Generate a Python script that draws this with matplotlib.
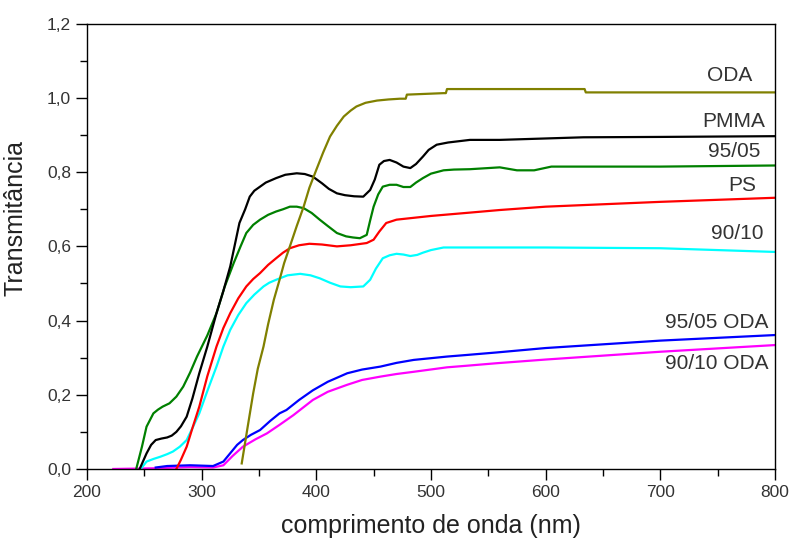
import numpy as np
import matplotlib.pyplot as plt
from matplotlib.ticker import MultipleLocator, FuncFormatter

plt.rcParams['font.family'] = ['Liberation Sans', 'DejaVu Sans']

# PMMA
pmma_x = [246, 252, 256, 260, 265, 270, 274, 278, 282, 287, 292, 298, 305, 313, 319, 325, 333, 338, 342, 346,
          351, 356, 365, 373, 383, 390, 397, 405, 411, 418, 425, 433, 441, 447, 451, 455, 459, 464, 470, 476,
          482, 487, 493, 498, 505, 515, 534, 560, 633, 700, 800]
pmma_y = [0, 0.042, 0.065, 0.078, 0.082, 0.085, 0.09, 0.10, 0.115, 0.141, 0.19, 0.258, 0.33, 0.42, 0.48, 0.546,
          0.663, 0.70, 0.734, 0.75, 0.761, 0.772, 0.784, 0.793, 0.797, 0.795, 0.788, 0.77, 0.755, 0.743, 0.738,
          0.735, 0.734, 0.752, 0.78, 0.82, 0.83, 0.833, 0.826, 0.815, 0.811, 0.822, 0.842, 0.86, 0.874, 0.88,
          0.887, 0.887, 0.894, 0.895, 0.897]

# 95/05
b9505_x = [243, 248, 252, 258, 262, 266, 272, 278, 284, 290, 296, 305, 313, 320, 328, 334, 339, 345, 351, 358,
           365, 371, 377, 383, 389, 396, 403, 410, 418, 426, 432, 438, 444, 447, 450, 454, 458, 464, 470, 476,
           482, 487, 493, 500, 511, 520, 534, 560, 575, 590, 605, 700, 800]
b9505_y = [0, 0.06, 0.114, 0.15, 0.16, 0.168, 0.177, 0.195, 0.222, 0.26, 0.303, 0.36, 0.42, 0.49, 0.555, 0.60,
           0.636, 0.658, 0.672, 0.685, 0.694, 0.70, 0.707, 0.707, 0.703, 0.69, 0.672, 0.655, 0.636, 0.627, 0.624,
           0.622, 0.631, 0.67, 0.707, 0.74, 0.761, 0.766, 0.766, 0.76, 0.76, 0.772, 0.784, 0.796, 0.805, 0.807,
           0.808, 0.813, 0.805, 0.805, 0.815, 0.815, 0.818]

# PS
ps_x = [278, 282, 287, 292, 298, 305, 313, 319, 325, 332, 339, 345, 351, 358, 365, 371, 377, 385, 394, 405,
        418, 430, 444, 450, 455, 461, 470, 482, 500, 534, 560, 600, 700, 800]
ps_y = [0, 0.025, 0.06, 0.11, 0.168, 0.25, 0.33, 0.38, 0.42, 0.46, 0.492, 0.512, 0.528, 0.55, 0.568, 0.583,
        0.595, 0.603, 0.607, 0.605, 0.6, 0.603, 0.609, 0.618, 0.64, 0.663, 0.672, 0.676, 0.682, 0.691, 0.698,
        0.707, 0.72, 0.731]

# 90/10
b9010_x = [247, 252, 258, 264, 270, 275, 281, 287, 292, 298, 305, 313, 319, 325, 332, 339, 346, 354, 359, 365,
           375, 386, 395, 403, 412, 421, 430, 441, 447, 452, 458, 464, 470, 476, 482, 488, 493, 500, 511, 534,
           600, 700, 800]
b9010_y = [0, 0.02, 0.027, 0.033, 0.04, 0.047, 0.06, 0.078, 0.11, 0.15, 0.21, 0.276, 0.33, 0.375, 0.415, 0.447,
           0.47, 0.492, 0.502, 0.51, 0.522, 0.526, 0.522, 0.514, 0.502, 0.492, 0.49, 0.492, 0.51, 0.54, 0.568,
           0.576, 0.58, 0.578, 0.574, 0.577, 0.583, 0.59, 0.597, 0.597, 0.597, 0.595, 0.585]

# ODA
oda_x = [335, 340, 345, 349, 354, 358, 363, 368, 372, 377, 383, 389, 394, 400, 406, 412, 418, 424, 430, 435,
         443, 453, 463, 473, 478, 479, 511, 513, 514, 634, 635, 800]
oda_y = [0.015, 0.11, 0.204, 0.27, 0.33, 0.39, 0.456, 0.51, 0.555, 0.6, 0.655, 0.707, 0.758, 0.806, 0.853,
         0.896, 0.925, 0.95, 0.966, 0.977, 0.987, 0.993, 0.996, 0.998, 0.998, 1.009, 1.013, 1.013, 1.024,
         1.024, 1.015, 1.015]

# 95/05 ODA
b9505oda_x = [260, 270, 290, 310, 319, 327, 331, 336, 343, 351, 360, 368, 374, 385, 397, 410, 427, 440, 456,
              470, 485, 514, 530, 557, 600, 700, 800]
b9505oda_y = [0.004, 0.008, 0.01, 0.008, 0.02, 0.05, 0.065, 0.078, 0.092, 0.105, 0.13, 0.15, 0.159, 0.186,
              0.212, 0.235, 0.258, 0.268, 0.276, 0.286, 0.294, 0.303, 0.307, 0.314, 0.326, 0.346, 0.361]

# 90/10 ODA
b9010oda_x = [223, 260, 290, 310, 319, 327, 336, 347, 357, 368, 380, 397, 410, 427, 440, 456, 470, 485, 514,
              530, 557, 600, 700, 800]
b9010oda_y = [0, 0.002, 0.005, 0.004, 0.01, 0.035, 0.06, 0.08, 0.096, 0.119, 0.145, 0.186, 0.208, 0.227,
              0.24, 0.249, 0.256, 0.262, 0.274, 0.278, 0.285, 0.295, 0.316, 0.334]

series = [
    (b9010oda_x, b9010oda_y, '#ff00ff'),
    (b9505oda_x, b9505oda_y, '#0000ff'),
    (b9010_x, b9010_y, '#00ffff'),
    (ps_x, ps_y, '#ff0000'),
    (b9505_x, b9505_y, '#008000'),
    (pmma_x, pmma_y, '#000000'),
    (oda_x, oda_y, '#808000'),
]

labels = ['ODA', 'PMMA', '95/05', 'PS', '90/10', '95/05 ODA', '90/10 ODA']
label_x = [780, 791, 787, 784, 790, 794, 794]
label_y = [1.06, 0.936, 0.855, 0.763, 0.634, 0.396, 0.283]

txt = '#333333'

fig = plt.figure(figsize=(7.9, 5.4), dpi=100)
ax = fig.add_axes([0.110, 0.1315, 0.871, 0.8245])

for xs, ys, c in series:
    ax.plot(xs, ys, color=c, lw=1.6)

for lab, lx, ly in zip(labels, label_x, label_y):
    ax.text(lx, ly, lab, ha='right', va='center', fontsize=15, color=txt)

ax.set_xlim(200, 800)
ax.set_ylim(0, 1.2)
ax.xaxis.set_major_locator(MultipleLocator(100))
ax.xaxis.set_minor_locator(MultipleLocator(50))
ax.yaxis.set_major_locator(MultipleLocator(0.2))
ax.yaxis.set_minor_locator(MultipleLocator(0.1))
ax.yaxis.set_major_formatter(FuncFormatter(lambda v, p: f'{v:.1f}'.replace('.', ',')))

ax.tick_params(which='both', direction='out', top=False, right=False, colors='#000000',
               labelcolor=txt, labelsize=12.5, width=1)
ax.tick_params(which='major', length=8)
ax.tick_params(which='minor', length=5)
for s in ax.spines.values():
    s.set_linewidth(1)

ax.set_xlabel('comprimento de onda (nm)', fontsize=18, color='#222222', labelpad=10)
ax.set_ylabel('Transmitância', fontsize=18, color='#222222')
ax.yaxis.set_label_coords(-0.086, 0.564)

fig.savefig('out.png', dpi=100)
